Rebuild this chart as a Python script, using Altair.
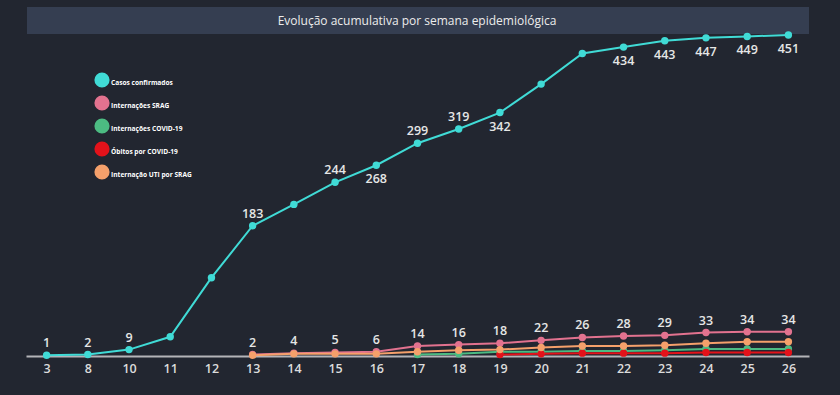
import altair as alt
import pandas as pd

weeks = [3, 8, 10, 11, 12, 13, 14, 15, 16, 17, 18, 19, 20, 21, 22, 23, 24, 25, 26]
casos = [1, 2, 9, 27, 110, 183, 213, 244, 268, 299, 319, 342, 382, 425, 434, 443, 447, 449, 451]
srag = [None] * 5 + [2, 4, 5, 6, 14, 16, 18, 22, 26, 28, 29, 33, 34, 34]
covid = [None] * 9 + [2, 3, 6, 6, 7, 7, 8, 10, 10, 10]
obitos = [None] * 11 + [2, 3, 4, 4, 4, 5, 5, 5]
uti = [None] * 5 + [1, 3, 3, 3, 6, 8, 9, 12, 14, 14, 15, 18, 20, 20]

casos_label = ["above", "above", "above", "", "", "above", "", "above", "below", "above",
               "above", "below", "", "", "below", "below", "below", "below", "below"]
srag_label = [""] * 5 + ["above"] * 14

series_names = ["Casos confirmados", "Internações SRAG", "Internações COVID-19",
                "Óbitos por COVID-19", "Internação UTI por SRAG"]
series_colors = ["#40dbd6", "#e2728f", "#4cbb82", "#e3121a", "#f5a06b"]
title_text = "Evolução acumulativa por semana epidemiológica"

rows = []
for name, vals, labs in [
    (series_names[0], casos, casos_label),
    (series_names[1], srag, srag_label),
    (series_names[2], covid, [""] * 19),
    (series_names[3], obitos, [""] * 19),
    (series_names[4], uti, [""] * 19),
]:
    for i, (w, v) in enumerate(zip(weeks, vals)):
        if v is None:
            continue
        rows.append({"semana": str(w), "serie": name, "valor": v, "ordem": i,
                     "rotulo": labs[i], "sidx": series_names.index(name)})
df = pd.DataFrame(rows)

week_order = [str(w) for w in weeks]
FONT = "Open Sans"

x = alt.X("semana:O", sort=week_order,
          scale=alt.Scale(type="point", padding=0.5),
          axis=alt.Axis(title=None, labelAngle=0, ticks=False, grid=False,
                        domainColor="#b4b4b8", domainWidth=2,
                        labelColor="#dcdcdc", labelFontSize=12.5, labelFont=FONT,
                        labelFontWeight=600, labelPadding=6))
y = alt.Y("valor:Q", scale=alt.Scale(domain=[0, 451], nice=False), axis=None)

legend = alt.Legend(title=None, orient="none", legendX=68, legendY=37,
                    symbolType="circle", symbolSize=230,
                    symbolStrokeWidth=0, labelFontSize=6.6,
                    labelFont=FONT, labelFontWeight="bold",
                    labelColor="#ffffff", labelOffset=1,
                    labelBaseline="top", rowPadding=7,
                    padding=0, symbolOpacity=1)
color = alt.Color("serie:N", scale=alt.Scale(domain=series_names, range=series_colors),
                  legend=legend)

base = alt.Chart(df)

lines = base.mark_line(strokeWidth=2, clip=False).encode(
    x=x, y=y, color=color, order="ordem:Q", detail="serie:N")

points = base.mark_circle(size=55, opacity=1, clip=False).encode(
    x=x, y=y, color=color, order="sidx:Q")

above = base.transform_filter(alt.datum.rotulo == "above").mark_text(
    dy=-12, fontSize=12.5, font=FONT, fontWeight=600, color="#e6e6e6").encode(
    x=x, y=y, text="valor:Q")
below = base.transform_filter(alt.datum.rotulo == "below").mark_text(
    dy=14, fontSize=12.5, font=FONT, fontWeight=600, color="#e6e6e6").encode(
    x=x, y=y, text="valor:Q")

bar = alt.Chart(pd.DataFrame({"t": [title_text]})).mark_rect(
    color="#353e51", clip=False).encode(
    x=alt.value(1), x2=alt.value(783), y=alt.value(-28), y2=alt.value(-1))
title = alt.Chart(pd.DataFrame({"t": [title_text]})).mark_text(
    fontSize=12, font=FONT, color="#ececec", clip=False).encode(
    x=alt.value(391), y=alt.value(-14), text="t:N")

chart = alt.layer(bar, title, lines, points, above, below).properties(
    width=783, height=321,
    autosize=alt.AutoSizeParams(type="none"),
    padding={"left": 26, "top": 35, "right": 31, "bottom": 39},
    background="#222630",
).configure_view(stroke=None)

chart.save("out.html", embed_options={"renderer": "svg", "actions": False})
